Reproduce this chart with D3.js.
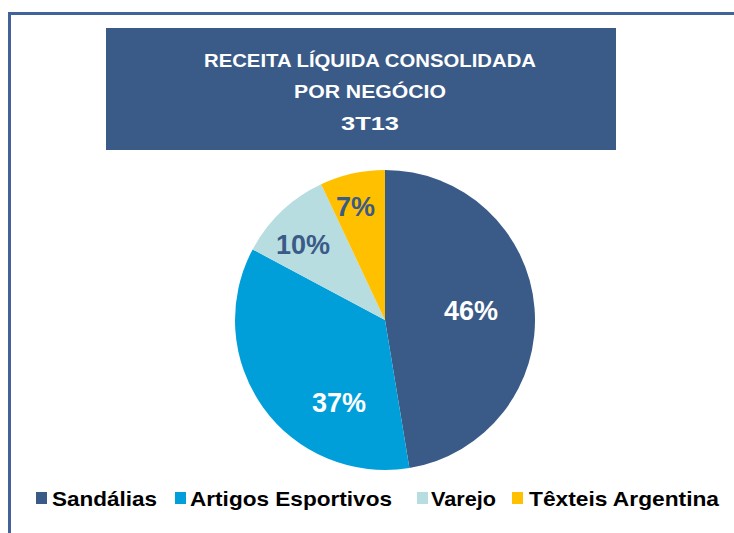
<!DOCTYPE html>
<html>
<head>
<meta charset="utf-8">
<script src="https://cdn.jsdelivr.net/npm/d3@7"></script>
<style>
  html, body { margin: 0; padding: 0; background: #fff; }
  svg { display: block; font-family: "Liberation Sans", Arial, sans-serif; }
</style>
</head>
<body>
<svg id="chart" width="734" height="533"></svg>
<script>
// ---- data ----
const titleLines = ["RECEITA LÍQUIDA CONSOLIDADA", "POR NEGÓCIO", "3T13"];
const categories = ["Sandálias", "Artigos Esportivos", "Varejo", "Têxteis Argentina"];
const shares = [47.4, 35.4, 10.2, 7.0];           // slice sizes as drawn
const shareLabels = ["46%", "37%", "10%", "7%"];  // labels as printed
const colors = ["#3A5A87", "#009FDA", "#B7DDE1", "#FFC000"];
const labelColors = ["#ffffff", "#ffffff", "#3A5A87", "#3A5A87"];

// ---- layout ----
const W = 734, H = 533;
const svg = d3.select("#chart");
const cx = 385, cy = 320, R = 150;

// frame
svg.append("rect")
  .attr("x", 9.5).attr("y", 13.5)
  .attr("width", W + 20).attr("height", H + 20)
  .attr("fill", "none")
  .attr("stroke", "#41639A")
  .attr("stroke-width", 3);

// title box
svg.append("rect")
  .attr("x", 106).attr("y", 28)
  .attr("width", 510).attr("height", 122)
  .attr("fill", "#3A5A87");

const titleBase = [67, 98, 130];
const titleWidths = [332, 152, 58];
svg.selectAll("text.title")
  .data(titleLines)
  .join("text")
  .attr("class", "title")
  .attr("x", 370)
  .attr("y", (d, i) => titleBase[i])
  .attr("text-anchor", "middle")
  .attr("fill", "#ffffff")
  .attr("font-weight", "bold")
  .attr("font-size", 18)
  .attr("textLength", (d, i) => titleWidths[i])
  .attr("lengthAdjust", "spacingAndGlyphs")
  .text(d => d);

// pie
const pie = d3.pie().sort(null).value(d => d);
const arcs = pie(shares);
const arc = d3.arc().innerRadius(0).outerRadius(R);

const g = svg.append("g").attr("transform", `translate(${cx},${cy})`);
g.selectAll("path")
  .data(arcs)
  .join("path")
  .attr("d", arc)
  .attr("fill", (d, i) => colors[i]);

// data label placement (polar: angle in degrees clockwise from top, radius)
const labelPolar = [[83.4, 86.6], [209.3, 94], [312.6, 111.5], [345.5, 117.8]];
g.selectAll("text.lbl")
  .data(arcs)
  .join("text")
  .attr("class", "lbl")
  .attr("x", (d, i) => Math.sin(labelPolar[i][0] * Math.PI / 180) * labelPolar[i][1])
  .attr("y", (d, i) => -Math.cos(labelPolar[i][0] * Math.PI / 180) * labelPolar[i][1])
  .attr("dy", "0.36em")
  .attr("text-anchor", "middle")
  .attr("fill", (d, i) => labelColors[i])
  .attr("font-weight", "bold")
  .attr("font-size", 27)
  .text((d, i) => shareLabels[i]);

// legend
const legendSquareX = [36, 175, 417, 512];
const legendTextX = [52, 190, 431, 529];
const legendTextW = [105, 202, 65, 190];
const legendBase = 506;
const leg = svg.append("g");
leg.selectAll("rect")
  .data(categories)
  .join("rect")
  .attr("x", (d, i) => legendSquareX[i])
  .attr("y", legendBase - 14)
  .attr("width", 11).attr("height", 12)
  .attr("fill", (d, i) => colors[i]);
leg.selectAll("text")
  .data(categories)
  .join("text")
  .attr("x", (d, i) => legendTextX[i])
  .attr("y", legendBase)
  .attr("fill", "#000000")
  .attr("font-weight", "bold")
  .attr("font-size", 21)
  .attr("textLength", (d, i) => legendTextW[i])
  .attr("lengthAdjust", "spacingAndGlyphs")
  .text(d => d);
</script>
</body>
</html>
